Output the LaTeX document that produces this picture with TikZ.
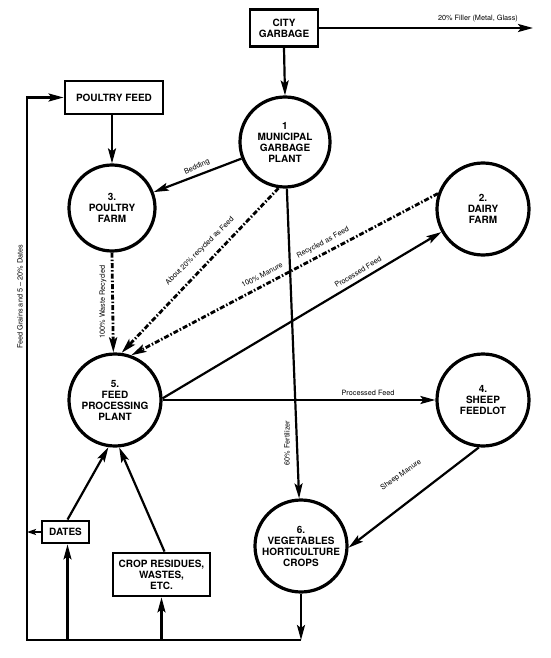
\documentclass[tikz,border=0pt]{standalone}
\usepackage{fontspec}
\setmainfont{TeX Gyre Heros}
\usetikzlibrary{arrows.meta}
\begin{document}
\begin{tikzpicture}[x=1pt,y=-1pt,
  circ/.style={circle, draw, line width=3.2pt, minimum size=#1, inner sep=0pt, align=center,
    font=\bfseries\fontsize{10}{11}\selectfont},
  box/.style={draw, line width=2.8pt, align=center, inner sep=0pt,
    font=\bfseries\fontsize{10}{11}\selectfont},
  tip/.style={-{Stealth[length=15pt,width=8pt,inset=3pt]}},
  arr/.style={line width=2.2pt, tip},
  dd/.style={line width=2.8pt, tip, dash pattern=on 5pt off 2pt on 1.5pt off 2pt},
  lbl/.style={font=\fontsize{7.3}{8}\selectfont, inner sep=0pt}]
\useasboundingbox (0,0) rectangle (550,658);

% nodes
\node[box, minimum width=68pt, minimum height=37pt] (cg) at (284,28) {CITY\\GARBAGE};
\node[box, minimum width=98pt, minimum height=33pt] (pf) at (114,97.5) {POULTRY FEED};
\node[box, minimum width=47pt, minimum height=22pt] (dates) at (65.5,532) {DATES};
\node[box, minimum width=97pt, minimum height=43pt] (crop) at (161.5,574.5) {CROP RESIDUES,\\WASTES,\\ETC.};

\node[circ=90pt] (c1) at (285,142) {1\\MUNICIPAL\\GARBAGE\\PLANT};
\node[circ=86pt] (c3) at (112,208) {3.\\POULTRY\\FARM};
\node[circ=92pt] (c2) at (483,209) {2.\\DAIRY\\FARM};
\node[circ=92pt] (c5) at (115,400) {5.\\FEED\\PROCESSING\\PLANT};
\node[circ=92pt] (c4) at (483,400) {4.\\SHEEP\\FEEDLOT};
\node[circ=92pt] (c6) at (301,546) {6.\\VEGETABLES\\HORTICULTURE\\CROPS};

\coordinate (fe) at (533,28);
\coordinate (bc) at (301,640);
\coordinate (bl) at (27,640);

% connectors
\draw[arr] (cg.south) -- (c1.north);
\draw[arr] (cg.east) -- (fe);
\draw[arr] (pf.south -| c3.north) -- (c3.north);
\draw[arr] (c1) -- (c3);
\draw[arr] (c1) -- (c6);
\draw[dd] (c3.south) -- (c5.92);
\draw[dd] (c1.262) -- (c5.82);
\draw[dd] (c2.161) -- (c5.70);
\draw[arr] (c5.2) -- (c2.209);
\draw[arr] (c5.east) -- (c4.west);
\draw[arr] (c4.265) -- (c6.358);
\draw[arr] ([xshift=2pt]dates.north) -- (c5.262);
\draw[arr] ([xshift=3pt]crop.north) -- (c5.275);
\draw[arr] (c6.south) -- (bc);
\draw[line width=2.5pt, tip] (bc) -- (bl) |- (pf.west);
\draw[line width=2pt, -{Stealth[length=9pt,width=6pt,inset=2pt]}] (dates.west) -- (dates.west -| bl);
\draw[arr] ([xshift=2pt]dates.south |- bl) -- ([xshift=2pt]dates.south);
\draw[arr] (crop.south |- bl) -- (crop.south);

% labels
\node[lbl] (lfill) at (478,19) {20\% Filler (Metal, Glass)};
\node[lbl, rotate=24] (lbed) at (197,167) {Bedding};
\node[lbl, rotate=45] (labout) at (200,251) {About 20\% recycled as Feed};
\node[lbl, rotate=27.5] (lman) at (262,275) {100\% Manure};
\node[lbl, rotate=28] (lrec) at (323,243) {Recycled as Feed};
\node[lbl, rotate=31] (lpf1) at (358,272) {Processed Feed};
\node[lbl] (lpf2) at (368,393) {Processed Feed};
\node[lbl, rotate=35] (lsm) at (401,475) {Sheep Manure};
\node[lbl, rotate=90] (lfert) at (287,443) {60\% Fertilizer};
\node[lbl, rotate=90] (lwaste) at (103,302) {100\% Waste Recycled};
\node[lbl, rotate=90] (lgrain) at (20,297) {Feed Grains and 5 -- 20\% Dates};
\end{tikzpicture}
\end{document}
